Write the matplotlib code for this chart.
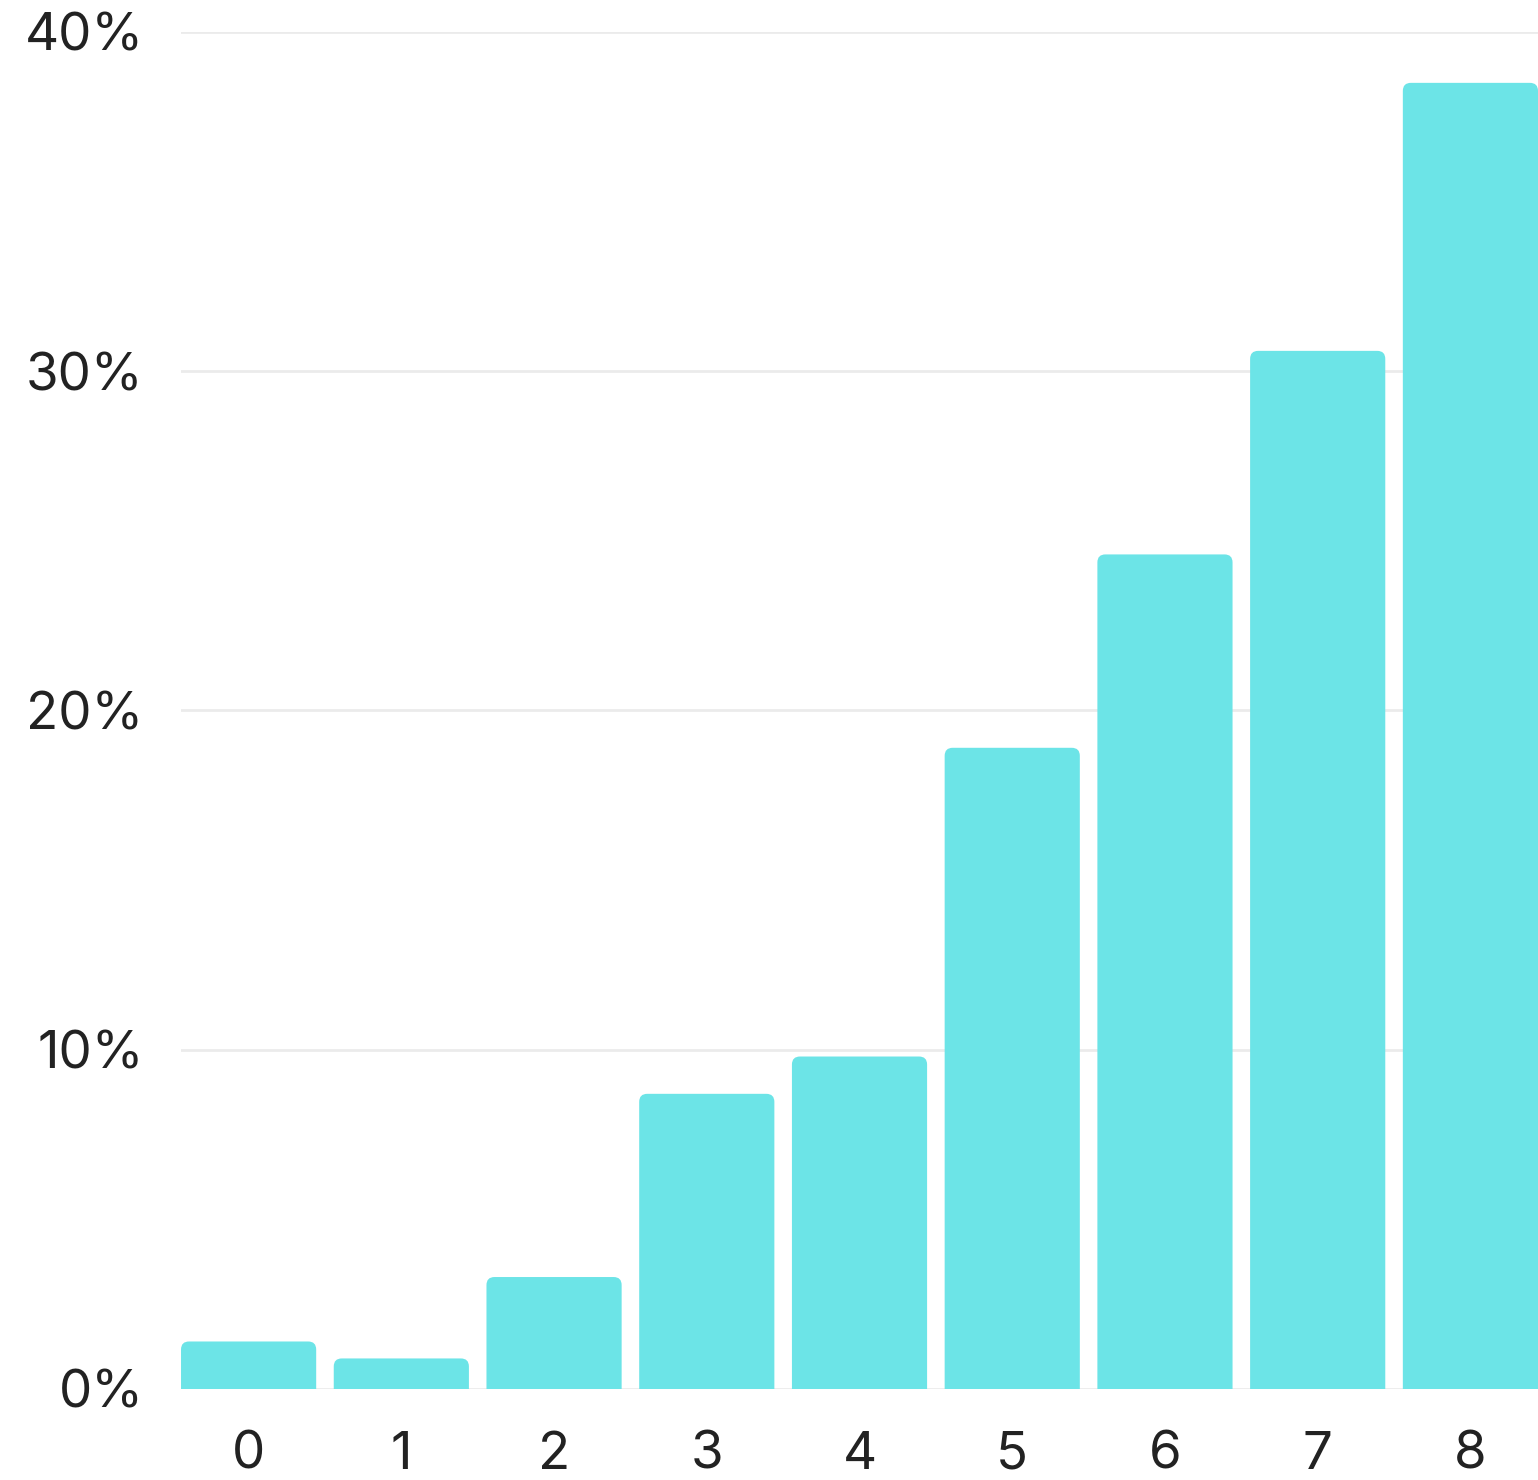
import matplotlib
matplotlib.use("Agg")
import matplotlib.pyplot as plt
from matplotlib.patches import FancyBboxPatch
from matplotlib.ticker import FuncFormatter

# Data
categories = ["0", "1", "2", "3", "4", "5", "6", "7", "8"]
shares = [1.4, 0.9, 3.3, 8.7, 9.8, 18.9, 24.6, 30.6, 38.5]
y_ticks = [0, 10, 20, 30, 40]

bar_color = "#6ce4e7"
text_color = "#222222"

plt.rcParams['font.family'] = ['Inter', 'DejaVu Sans']

fig = plt.figure(figsize=(15.38, 14.8), dpi=100)
ax = fig.add_axes([0.1177, 0.0615, 0.8823, 0.9169])

x = list(range(len(categories)))
bar_width = 0.885
bars = ax.bar(x, shares, width=bar_width, color=bar_color, zorder=2)

ax.set_xlim(-bar_width / 2, len(categories) - 1 + bar_width / 2)
ax.set_ylim(0, 40)

# swap the plain bars for ones with rounded top corners
px_x = ax.get_position().width * 1538 / (ax.get_xlim()[1] - ax.get_xlim()[0])
px_y = ax.get_position().height * 1480 / 40
radius = 8 / px_x
for b in bars:
    b.set_visible(False)
    rb = FancyBboxPatch((b.get_x(), -1), b.get_width(), b.get_height() + 1,
                        boxstyle=f"round,pad=0,rounding_size={radius}",
                        mutation_aspect=px_x / px_y,
                        facecolor=bar_color, edgecolor="none", zorder=2)
    ax.add_patch(rb)

ax.set_xticks(x)
ax.set_xticklabels(categories)
ax.set_yticks(y_ticks)
ax.yaxis.set_major_formatter(FuncFormatter(lambda v, p: f"{int(v)}%"))

ax.grid(axis='y', color="#ebebeb", linewidth=2, zorder=0)
ax.tick_params(axis='both', length=0, labelsize=38, colors=text_color)
ax.tick_params(axis='y', pad=27)
ax.tick_params(axis='x', pad=30)
for s in ax.spines.values():
    s.set_visible(False)

fig.savefig("out.png", dpi=100)
